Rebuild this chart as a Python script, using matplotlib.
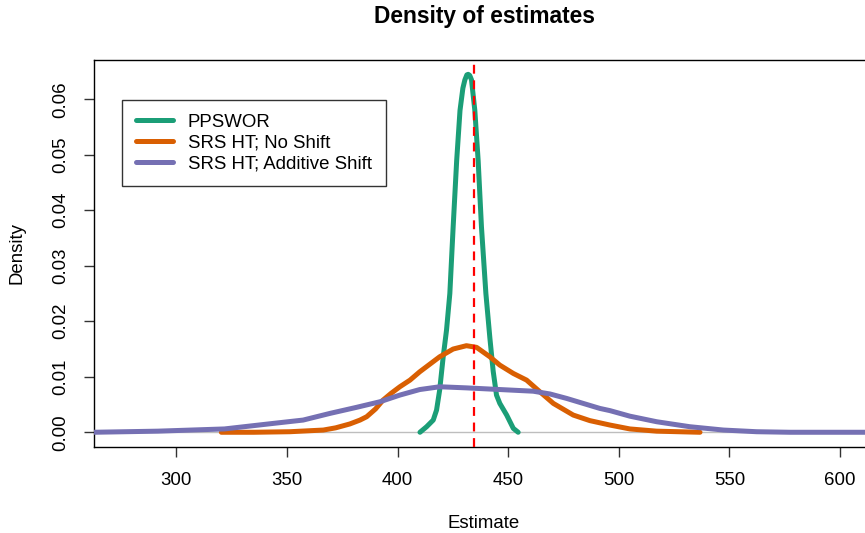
import matplotlib
matplotlib.use("Agg")
import matplotlib.pyplot as plt

plt.rcParams['font.family'] = ['Liberation Sans', 'DejaVu Sans']

# PPSWOR density
ppswor_x = [410.1, 413.1, 416.1, 417.6, 419.0, 420.6, 422.1, 423.6, 425.1, 426.7, 428.2, 429.5, 430.4,
            431.3, 431.9, 432.6, 433.4, 434.9, 436.4, 437.9, 439.9, 441.7, 443.2, 444.7, 446.2,
            449.3, 452.3, 454.5]
ppswor_y = [0.0000, 0.0010, 0.0022, 0.0040, 0.0076, 0.0136, 0.0184, 0.0250, 0.0370, 0.0490, 0.0580, 0.0620, 0.0635,
            0.0644, 0.0645, 0.0643, 0.0635, 0.0580, 0.0490, 0.0370, 0.0250, 0.0170, 0.0110, 0.0067, 0.0052,
            0.0031, 0.0007, 0.0000]

# SRS HT; No Shift
noshift_x = [320.3, 335.0, 351.3, 366.4, 372.0, 378.4, 383.0, 386.0, 390.0, 393.4, 397.0, 401.0, 405.6,
             410.0, 415.0, 419.0, 425.1, 431.1, 435.7, 441.7, 446.2, 452.3, 458.3, 464.3, 470.4,
             479.4, 486.9, 496.0, 505.0, 517.1, 536.7]
noshift_y = [0.0000, 0.0000, 0.0001, 0.0004, 0.0008, 0.0015, 0.0022, 0.0028, 0.0042, 0.0058, 0.0070, 0.0082, 0.0094,
             0.0109, 0.0124, 0.0136, 0.0150, 0.0156, 0.0153, 0.0136, 0.0121, 0.0106, 0.0094, 0.0073, 0.0052,
             0.0031, 0.0021, 0.0013, 0.0006, 0.0002, 0.0000]

# SRS HT; Additive Shift
addshift_x = [250.0, 262.5, 291.6, 321.7, 343.8, 357.3, 369.4, 381.5, 392.0, 401.0, 410.0, 419.0, 431.1,
              446.2, 461.3, 468.9, 476.4, 483.9, 491.4, 496.0, 505.0, 517.1, 532.1, 547.3, 562.3,
              577.4, 615.0]
addshift_y = [0.0000, 0.0000, 0.0002, 0.0006, 0.0016, 0.0022, 0.0034, 0.0045, 0.0055, 0.0067, 0.0077, 0.0082, 0.0080,
              0.0077, 0.0074, 0.0069, 0.0061, 0.0052, 0.0043, 0.0039, 0.0029, 0.0019, 0.0010, 0.0004, 0.0001,
              0.0000, 0.0000]

true_value = 434.4
x_ticks = [300, 350, 400, 450, 500, 550, 600]
y_ticks = [0.00, 0.01, 0.02, 0.03, 0.04, 0.05, 0.06]
y_tick_labels = ["0.00", "0.01", "0.02", "0.03", "0.04", "0.05", "0.06"]

colors = ["#1B9E77", "#D95F02", "#7570B3"]
labels = ["PPSWOR", "SRS HT; No Shift", "SRS HT; Additive Shift"]

FS = 13.4
W, H = 865, 533
ax_l, ax_r, ax_t, ax_b = 93.5, 865, 60, 446.7

fig = plt.figure(figsize=(W / 100, H / 100), dpi=100)
ax = fig.add_axes([ax_l / W, (H - ax_b) / H, (ax_r - ax_l) / W, (ax_b - ax_t) / H])

ax.axhline(0, color="#BEBEBE", lw=1.0, zorder=1)
lw = 3.6
for xs, ys, c, lab in [(ppswor_x, ppswor_y, colors[0], labels[0]),
                       (noshift_x, noshift_y, colors[1], labels[1]),
                       (addshift_x, addshift_y, colors[2], labels[2])]:
    ax.plot(xs, ys, color=c, lw=lw, solid_capstyle="round", solid_joinstyle="round", label=lab, zorder=3)
ax.axvline(true_value, color="red", lw=1.6, ls=(0, (4, 3)), zorder=4)

ax.set_xlim(262.5, 611.3)
ax.set_ylim(-0.0026, 0.06708)
ax.set_xticks(x_ticks)
ax.set_xticklabels([str(t) for t in x_ticks])
ax.set_yticks(y_ticks)
ax.set_yticklabels(y_tick_labels, rotation=90, va="center")
ax.tick_params(axis="both", direction="out", length=7.5, width=1, labelsize=FS, color="#333333")
ax.tick_params(axis="x", pad=11)
ax.tick_params(axis="y", pad=10)
ax.spines["right"].set_visible(False)
for s in ["left", "bottom", "top"]:
    ax.spines[s].set_linewidth(1.0)

fig.text(484 / W, 1 - 524 / H, "Estimate", ha="center", va="center", fontsize=FS)
fig.text(17 / W, 1 - ((ax_t + ax_b) / 2) / H, "Density", ha="center", va="center", rotation=90, fontsize=FS)
fig.text(484 / W, 1 - 17 / H, "Density of estimates", ha="center", va="center", fontsize=16.4, fontweight="bold")

leg = ax.legend(loc="upper left", bbox_to_anchor=((121.7 - ax_l) / (ax_r - ax_l), (ax_b - 100) / (ax_b - ax_t)),
                fontsize=FS, frameon=True, fancybox=False, handlelength=2.0, handletextpad=0.8,
                borderpad=0.75, labelspacing=0.2, borderaxespad=0)
leg.get_frame().set_edgecolor("black")
leg.get_frame().set_linewidth(1.0)

fig.savefig("out.png", dpi=100)
